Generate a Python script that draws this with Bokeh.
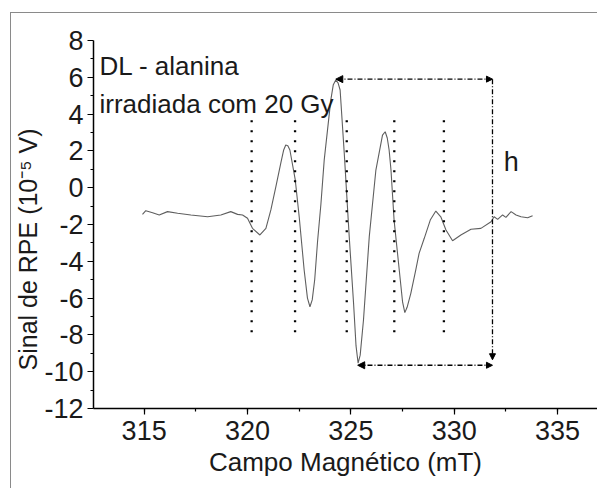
from bokeh.plotting import figure
from bokeh.models import FixedTicker, Label, Arrow, NormalHead, Title
from bokeh.embed import file_html
from bokeh.resources import INLINE

# ---- data ----
field = [314.92, 315.08, 315.41, 315.73, 316.13, 316.62, 317.26, 318.07, 318.71, 319.19,
         319.52, 319.76, 320.00, 320.24, 320.60, 320.89, 321.13, 321.37, 321.61, 321.75,
         321.85, 321.95, 322.05, 322.31, 322.50, 322.74, 322.90, 323.02, 323.13, 323.25,
         323.39, 323.55, 323.71, 324.03, 324.15, 324.27, 324.38, 324.48, 324.68, 324.92,
         325.13, 325.25, 325.35, 325.45, 325.61, 325.89, 326.21, 326.53, 326.66, 326.76,
         326.85, 326.94, 327.09, 327.34, 327.50, 327.61, 327.72, 327.90, 328.14, 328.30,
         328.55, 328.84, 329.11, 329.35, 329.60, 329.92, 330.32, 330.81, 331.29, 331.78,
         331.93, 332.10, 332.34, 332.50, 332.75, 332.99, 333.23, 333.55, 333.79]
signal = [-1.45, -1.25, -1.36, -1.48, -1.30, -1.39, -1.48, -1.58, -1.48, -1.30,
          -1.45, -1.48, -1.66, -2.21, -2.57, -2.21, -1.21, 0.05, 1.33, 2.05,
          2.32, 2.28, 2.05, 0.42, -1.58, -4.47, -6.00, -6.47, -6.10, -5.00,
          -2.90, -0.90, 1.50, 4.77, 5.60, 5.85, 5.70, 5.31, 1.87, -2.66,
          -6.28, -8.60, -9.54, -9.10, -7.19, -2.66, 0.96, 2.86, 3.04, 2.70,
          2.05, 0.96, -1.76, -4.47, -6.20, -6.79, -6.50, -5.74, -4.47, -3.57,
          -2.75, -1.76, -1.27, -1.58, -2.30, -2.88, -2.57, -2.26, -2.21, -1.85,
          -1.58, -1.72, -1.48, -1.61, -1.30, -1.48, -1.58, -1.63, -1.52]

line_positions = [320.2, 322.3, 324.8, 327.1, 329.5]
line_top = 3.9
line_bottom = -7.85

peak_x, peak_y = 324.27, 5.9
trough_x, trough_y = 325.33, -9.65
h_x = 331.85

x_ticks = [315, 320, 325, 330, 335]
x_tick_labels = ["315", "320", "325", "330", "335"]
y_ticks = [-12, -10, -8, -6, -4, -2, 0, 2, 4, 6, 8]
y_tick_labels = ["-12", "-10", "-8", "-6", "-4", "-2", "0", "2", "4", "6", "8"]

FONT = "Liberation Sans"
TXT = "#1a1a1a"

p = figure(width=597, height=488, x_range=(312.55, 336.93), y_range=(-12, 8),
           output_backend="svg", toolbar_location=None,
           min_border_left=93, min_border_top=40, min_border_bottom=80, min_border_right=0)
p.title.visible = False
p.outline_line_color = None
p.xgrid.visible = False
p.ygrid.visible = False
p.background_fill_color = "white"
p.border_fill_color = None
# outer picture frame: left and top edges (drawn behind the transparent canvas border)
p.styles = {
    "background": "linear-gradient(#8a8a8a, #8a8a8a) 10px 12px / 1px 100% no-repeat, "
                  "linear-gradient(#8a8a8a, #8a8a8a) 10px 12px / 100% 1px no-repeat, white"
}

p.xaxis.ticker = FixedTicker(ticks=x_ticks, minor_ticks=[312.5 + 2.5 * i for i in range(10)])
p.xaxis.major_label_overrides = {t: l for t, l in zip(x_ticks, x_tick_labels)}
p.yaxis.ticker = FixedTicker(ticks=y_ticks, minor_ticks=[-11 + 2 * i for i in range(10)])
p.yaxis.major_label_overrides = {t: l for t, l in zip(y_ticks, y_tick_labels)}

for ax in (p.xaxis, p.yaxis):
    ax.axis_line_color = "black"
    ax.axis_line_width = 1.5
    ax.major_tick_line_color = "black"
    ax.major_tick_line_width = 1.2
    ax.minor_tick_line_color = "black"
    ax.minor_tick_line_width = 1.2
    ax.major_tick_in = 0
    ax.major_tick_out = 6
    ax.minor_tick_in = 0
    ax.minor_tick_out = 3
    ax.major_label_text_font = FONT
    ax.major_label_text_font_size = "27px"
    ax.major_label_text_color = TXT
p.xaxis.major_label_standoff = 6
p.yaxis.major_label_standoff = 4

p.xaxis.axis_label = "Campo Magnético (mT)"
p.xaxis.axis_label_text_font = FONT
p.xaxis.axis_label_text_font_size = "26px"
p.xaxis.axis_label_text_font_style = "normal"
p.xaxis.axis_label_text_color = TXT
p.xaxis.axis_label_standoff = 4

ytitle = Title(text="Sinal de RPE (10⁻⁵ V)", align="left", offset=38, standoff=0,
               vertical_align="bottom", text_font=FONT, text_font_size="25px",
               text_font_style="normal", text_color=TXT)
p.add_layout(ytitle, "left")

# spectrum
p.line(field, signal, line_color="#5f5f5f", line_width=1.1)

# dotted vertical markers
p.segment(x0=line_positions, y0=[line_bottom] * len(line_positions),
          x1=line_positions, y1=[line_top] * len(line_positions),
          line_color="black", line_width=2.3, line_dash="2 8")

# h measurement (dash-dot with arrows)
dd = "5 2 1 2"
p.add_layout(Arrow(x_start=h_x, y_start=peak_y, x_end=peak_x, y_end=peak_y,
                   end=NormalHead(size=7, fill_color="black", line_color="black"),
                   start=NormalHead(size=6, fill_color="black", line_color="black"),
                   line_dash=dd, line_width=1.3, line_color="black"))
p.add_layout(Arrow(x_start=h_x, y_start=peak_y, x_end=h_x, y_end=trough_y + 0.3,
                   end=NormalHead(size=6, fill_color="black", line_color="black"),
                   start=None, line_dash=dd, line_width=1.3, line_color="black"))
p.add_layout(Arrow(x_start=h_x, y_start=trough_y, x_end=trough_x, y_end=trough_y,
                   end=NormalHead(size=7, fill_color="black", line_color="black"),
                   start=NormalHead(size=6, fill_color="black", line_color="black"),
                   line_dash=dd, line_width=1.3, line_color="black"))

# texts
for txt, yy in (("DL - alanina", 6.60), ("irradiada com 20 Gy", 4.56)):
    p.add_layout(Label(x=312.84, y=yy, text=txt, text_font=FONT, text_font_size="26px",
                       text_color=TXT, text_baseline="alphabetic", text_align="left"))
p.add_layout(Label(x=332.39, y=1.37, text="h", text_font=FONT, text_font_size="27px",
                   text_color=TXT, text_baseline="alphabetic", text_align="left"))

open("out.html", "w").write(file_html(p, INLINE))
